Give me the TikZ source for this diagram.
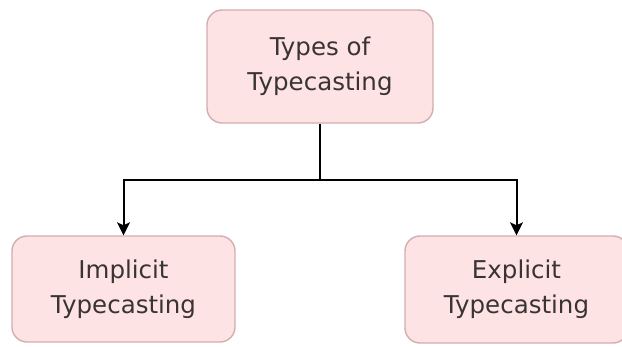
\documentclass[tikz,border=0pt]{standalone}
\usepackage{fontspec}
\setmainfont{DejaVu Sans}
\usetikzlibrary{arrows.meta}
\definecolor{boxfill}{HTML}{FDE3E4}
\definecolor{boxline}{HTML}{D2AEB0}
\definecolor{inktext}{HTML}{3A3333}
\tikzset{
  typebox/.style={draw=boxline, fill=boxfill, line width=1.4pt, rounded corners=15pt,
    align=center, inner sep=0pt, text=inktext,
    font=\fontsize{24.5}{35}\selectfont},
  link/.style={line width=2pt, -{Stealth[length=13pt, width=13pt, inset=3pt]}}
}
\begin{document}
\begin{tikzpicture}[x=1pt, y=-1pt]
            \useasboundingbox (0,0) rectangle (622,346);
            % Boxes
            \node[typebox, minimum width=226pt, minimum height=113pt] (types) at (320,66.5) {Types of\\Typecasting};
            \node[typebox, minimum width=223pt, minimum height=106pt] (implicit) at (123.5,289) {Implicit\\Typecasting};
            \node[typebox, minimum width=223pt, minimum height=107pt] (explicit) at (516.5,289.5) {Explicit\\Typecasting};
            % Connectors
            \coordinate (split) at (320,180);
            \draw[line width=2pt] (types.south) -- (split);
            \draw[link] (split) -| (implicit.north);
            \draw[link] (split) -| (explicit.north);
        \end{tikzpicture}
\end{document}
